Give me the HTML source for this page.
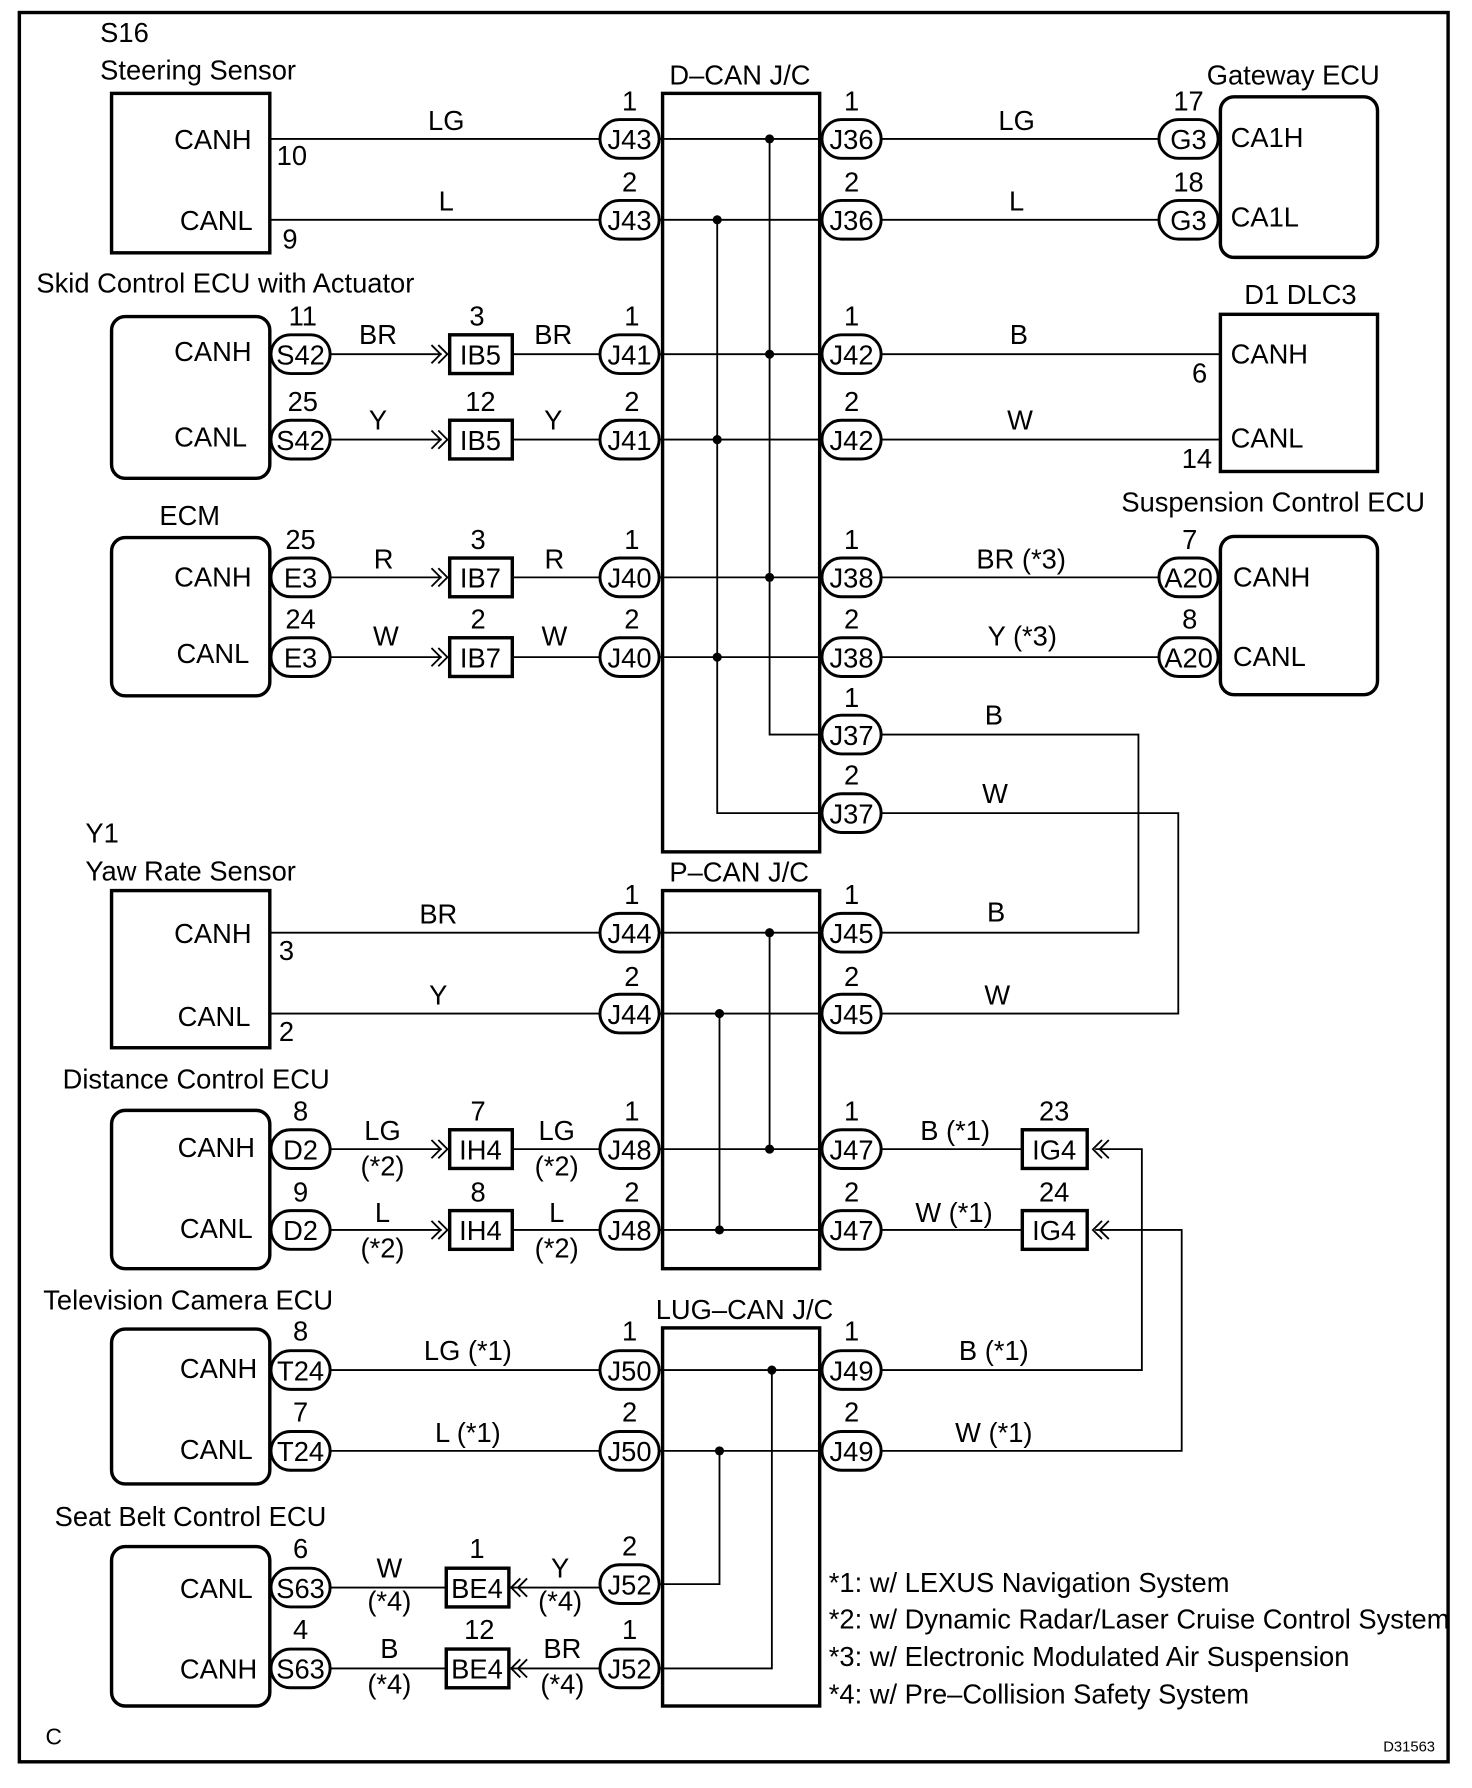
<!DOCTYPE html>
<html><head><meta charset="utf-8"><style>
html,body{margin:0;padding:0;background:#fff}
svg{display:block}
text{font-family:"Liberation Sans",Arial,sans-serif;font-size:24px;fill:#000}
.o{fill:#fff;stroke:#000;stroke-width:2.6}
.b{fill:#fff;stroke:#000;stroke-width:3}
.j{fill:none;stroke:#000;stroke-width:3}
.w{stroke:#000;stroke-width:1.6;fill:none}
.c{stroke:#000;stroke-width:1.6;fill:none}
</style></head><body>
<svg width="1472" height="1788" viewBox="0 0 1293 1570" preserveAspectRatio="none" xmlns="http://www.w3.org/2000/svg">
<rect x="17" y="11" width="1255" height="1536" fill="none" stroke="#000" stroke-width="3"/>

<!-- wires -->
<g class="w">
<path d="M237 122H527M579 122H722M774 122H1018"/>
<path d="M237 193H527M579 193H722M774 193H1018"/>
<path d="M290 311H388M450 311H527M579 311H722M774 311H1072"/>
<path d="M290 386H388M450 386H527M579 386H722M774 386H1072"/>
<path d="M290 507H388M450 507H527M579 507H722M774 507H1018"/>
<path d="M290 577H388M450 577H527M579 577H722M774 577H1018"/>
<path d="M676 122V645H722M630 193V714H722"/>
<path d="M774 645H1000V819H774M774 714H1035V890H774"/>
<path d="M237 819H527M579 819H722"/>
<path d="M237 890H527M579 890H722"/>
<path d="M290 1009H388M450 1009H527M579 1009H722M774 1009H898"/>
<path d="M290 1080H388M450 1080H527M579 1080H722M774 1080H898"/>
<path d="M676 819V1009M632 890V1080"/>
<path d="M962 1009H1003V1203H774M962 1080H1038V1274H774"/>
<path d="M290 1203H527M579 1203H722"/>
<path d="M290 1274H527M579 1274H722"/>
<path d="M678 1203V1465H579M632 1274V1391H579"/>
<path d="M290 1394H392M447 1394H527M290 1465H392M447 1465H527"/>
</g>
<g fill="#000">
<circle cx="676" cy="122" r="4"/><circle cx="630" cy="193" r="4"/>
<circle cx="676" cy="311" r="4"/><circle cx="630" cy="386" r="4"/>
<circle cx="676" cy="507" r="4"/><circle cx="630" cy="577" r="4"/>
<circle cx="676" cy="819" r="4"/><circle cx="632" cy="890" r="4"/>
<circle cx="676" cy="1009" r="4"/><circle cx="632" cy="1080" r="4"/>
<circle cx="678" cy="1203" r="4"/><circle cx="632" cy="1274" r="4"/>
</g>
<!-- chevrons -->
<g class="c">
<path d="M379 303L387 311L379 319M385 303L393 311L385 319"/>
<path d="M379 378L387 386L379 394M385 378L393 386L385 394"/>
<path d="M379 499L387 507L379 515M385 499L393 507L385 515"/>
<path d="M379 569L387 577L379 585M385 569L393 577L385 585"/>
<path d="M379 1001L387 1009L379 1017M385 1001L393 1009L385 1017"/>
<path d="M379 1072L387 1080L379 1088M385 1072L393 1080L385 1088"/>
<path d="M968 1001L960 1009L968 1017M974 1001L966 1009L974 1017"/>
<path d="M968 1072L960 1080L968 1088M974 1072L966 1080L974 1088"/>
<path d="M457 1386L449 1394L457 1402M463 1386L455 1394L463 1402"/>
<path d="M457 1457L449 1465L457 1473M463 1457L455 1465L463 1473"/>
</g>

<!-- component boxes -->
<rect class="b" x="98" y="82" width="139" height="140"/>
<rect class="b" x="98" y="278" width="139" height="142" rx="12"/>
<rect class="b" x="98" y="472" width="139" height="139" rx="12"/>
<rect class="b" x="98" y="782" width="139" height="138"/>
<rect class="b" x="98" y="975" width="139" height="139" rx="12"/>
<rect class="b" x="98" y="1167" width="139" height="136" rx="12"/>
<rect class="b" x="98" y="1358" width="139" height="140" rx="12"/>
<rect class="b" x="1072" y="85" width="138" height="141" rx="12"/>
<rect class="b" x="1072" y="276" width="138" height="138"/>
<rect class="b" x="1072" y="471" width="138" height="139" rx="12"/>
<rect class="j" x="582" y="82" width="138" height="666"/>
<rect class="j" x="582" y="782" width="138" height="332"/>
<rect class="j" x="582" y="1166" width="138" height="332"/>

<!-- square connectors -->
<rect class="b" x="395" y="294" width="55" height="34"/>
<rect class="b" x="395" y="369" width="55" height="34"/>
<rect class="b" x="395" y="490" width="55" height="34"/>
<rect class="b" x="395" y="560" width="55" height="34"/>
<rect class="b" x="395" y="992" width="55" height="34"/>
<rect class="b" x="395" y="1063" width="55" height="34"/>
<rect class="b" x="898" y="992" width="57" height="34"/>
<rect class="b" x="898" y="1063" width="57" height="34"/>
<rect class="b" x="392" y="1377" width="55" height="34"/>
<rect class="b" x="392" y="1448" width="55" height="34"/>

<!-- ovals -->
<g>
<rect class="o" x="527" y="105" width="52" height="34" rx="17"/><rect class="o" x="527" y="176" width="52" height="34" rx="17"/>
<rect class="o" x="722" y="105" width="52" height="34" rx="17"/><rect class="o" x="722" y="176" width="52" height="34" rx="17"/>
<rect class="o" x="1018" y="105" width="52" height="34" rx="17"/><rect class="o" x="1018" y="176" width="52" height="34" rx="17"/>
<rect class="o" x="238" y="294" width="52" height="34" rx="17"/><rect class="o" x="238" y="369" width="52" height="34" rx="17"/>
<rect class="o" x="527" y="294" width="52" height="34" rx="17"/><rect class="o" x="527" y="369" width="52" height="34" rx="17"/>
<rect class="o" x="722" y="294" width="52" height="34" rx="17"/><rect class="o" x="722" y="369" width="52" height="34" rx="17"/>
<rect class="o" x="238" y="490" width="52" height="34" rx="17"/><rect class="o" x="238" y="560" width="52" height="34" rx="17"/>
<rect class="o" x="527" y="490" width="52" height="34" rx="17"/><rect class="o" x="527" y="560" width="52" height="34" rx="17"/>
<rect class="o" x="722" y="490" width="52" height="34" rx="17"/><rect class="o" x="722" y="560" width="52" height="34" rx="17"/>
<rect class="o" x="1018" y="490" width="52" height="34" rx="17"/><rect class="o" x="1018" y="560" width="52" height="34" rx="17"/>
<rect class="o" x="722" y="628" width="52" height="34" rx="17"/><rect class="o" x="722" y="697" width="52" height="34" rx="17"/>
<rect class="o" x="527" y="802" width="52" height="34" rx="17"/><rect class="o" x="527" y="873" width="52" height="34" rx="17"/>
<rect class="o" x="722" y="802" width="52" height="34" rx="17"/><rect class="o" x="722" y="873" width="52" height="34" rx="17"/>
<rect class="o" x="238" y="992" width="52" height="34" rx="17"/><rect class="o" x="238" y="1063" width="52" height="34" rx="17"/>
<rect class="o" x="527" y="992" width="52" height="34" rx="17"/><rect class="o" x="527" y="1063" width="52" height="34" rx="17"/>
<rect class="o" x="722" y="992" width="52" height="34" rx="17"/><rect class="o" x="722" y="1063" width="52" height="34" rx="17"/>
<rect class="o" x="238" y="1186" width="52" height="34" rx="17"/><rect class="o" x="238" y="1257" width="52" height="34" rx="17"/>
<rect class="o" x="527" y="1186" width="52" height="34" rx="17"/><rect class="o" x="527" y="1257" width="52" height="34" rx="17"/>
<rect class="o" x="722" y="1186" width="52" height="34" rx="17"/><rect class="o" x="722" y="1257" width="52" height="34" rx="17"/>
<rect class="o" x="527" y="1374" width="52" height="34" rx="17"/><rect class="o" x="527" y="1448" width="52" height="34" rx="17"/>
<rect class="o" x="238" y="1377" width="52" height="34" rx="17"/><rect class="o" x="238" y="1448" width="52" height="34" rx="17"/>
</g>

<!-- connector labels (centered) -->
<g text-anchor="middle">
<text x="553" y="131">J43</text><text x="553" y="202">J43</text>
<text x="748" y="131">J36</text><text x="748" y="202">J36</text>
<text x="1044" y="131">G3</text><text x="1044" y="202">G3</text>
<text x="264" y="320">S42</text><text x="264" y="395">S42</text>
<text x="422" y="320">IB5</text><text x="422" y="395">IB5</text>
<text x="553" y="320">J41</text><text x="553" y="395">J41</text>
<text x="748" y="320">J42</text><text x="748" y="395">J42</text>
<text x="264" y="516">E3</text><text x="264" y="586">E3</text>
<text x="422" y="516">IB7</text><text x="422" y="586">IB7</text>
<text x="553" y="516">J40</text><text x="553" y="586">J40</text>
<text x="748" y="516">J38</text><text x="748" y="586">J38</text>
<text x="1044" y="516">A20</text><text x="1044" y="586">A20</text>
<text x="748" y="654">J37</text><text x="748" y="723">J37</text>
<text x="553" y="828">J44</text><text x="553" y="899">J44</text>
<text x="748" y="828">J45</text><text x="748" y="899">J45</text>
<text x="264" y="1018">D2</text><text x="264" y="1089">D2</text>
<text x="422" y="1018">IH4</text><text x="422" y="1089">IH4</text>
<text x="553" y="1018">J48</text><text x="553" y="1089">J48</text>
<text x="748" y="1018">J47</text><text x="748" y="1089">J47</text>
<text x="926" y="1018">IG4</text><text x="926" y="1089">IG4</text>
<text x="264" y="1212">T24</text><text x="264" y="1283">T24</text>
<text x="553" y="1212">J50</text><text x="553" y="1283">J50</text>
<text x="748" y="1212">J49</text><text x="748" y="1283">J49</text>
<text x="264" y="1403">S63</text><text x="264" y="1474">S63</text>
<text x="419" y="1403">BE4</text><text x="419" y="1474">BE4</text>
<text x="553" y="1400">J52</text><text x="553" y="1474">J52</text>

<!-- pin numbers -->
<text x="553" y="97">1</text><text x="553" y="168">2</text>
<text x="748" y="97">1</text><text x="748" y="168">2</text>
<text x="1044" y="97">17</text><text x="1044" y="168">18</text>
<text x="266" y="286">11</text><text x="266" y="361">25</text>
<text x="419" y="286">3</text><text x="422" y="361">12</text>
<text x="555" y="286">1</text><text x="555" y="361">2</text>
<text x="748" y="286">1</text><text x="748" y="361">2</text>
<text x="264" y="482">25</text><text x="264" y="552">24</text>
<text x="420" y="482">3</text><text x="420" y="552">2</text>
<text x="555" y="482">1</text><text x="555" y="552">2</text>
<text x="748" y="482">1</text><text x="748" y="552">2</text>
<text x="1045" y="482">7</text><text x="1045" y="552">8</text>
<text x="748" y="621">1</text><text x="748" y="689">2</text>
<text x="555" y="794">1</text><text x="555" y="866">2</text>
<text x="748" y="794">1</text><text x="748" y="866">2</text>
<text x="264" y="984">8</text><text x="264" y="1055">9</text>
<text x="420" y="984">7</text><text x="420" y="1055">8</text>
<text x="555" y="984">1</text><text x="555" y="1055">2</text>
<text x="748" y="984">1</text><text x="748" y="1055">2</text>
<text x="926" y="984">23</text><text x="926" y="1055">24</text>
<text x="264" y="1177">8</text><text x="264" y="1248">7</text>
<text x="553" y="1177">1</text><text x="553" y="1248">2</text>
<text x="748" y="1177">1</text><text x="748" y="1248">2</text>
<text x="264" y="1368">6</text><text x="264" y="1439">4</text>
<text x="419" y="1368">1</text><text x="421" y="1439">12</text>
<text x="553" y="1366">2</text><text x="553" y="1439">1</text>

<!-- wire colors -->
<text x="392" y="114">LG</text><text x="392" y="185">L</text>
<text x="893" y="114">LG</text><text x="893" y="185">L</text>
<text x="332" y="302">BR</text><text x="486" y="302">BR</text><text x="895" y="302">B</text>
<text x="332" y="377">Y</text><text x="486" y="377">Y</text><text x="896" y="377">W</text>
<text x="337" y="499">R</text><text x="487" y="499">R</text><text x="897" y="499">BR (*3)</text>
<text x="339" y="567">W</text><text x="487" y="567">W</text><text x="898" y="567">Y (*3)</text>
<text x="873" y="636">B</text><text x="874" y="705">W</text>
<text x="385" y="811">BR</text><text x="385" y="882">Y</text>
<text x="875" y="809">B</text><text x="876" y="882">W</text>
<text x="336" y="1001">LG</text><text x="336" y="1032">(*2)</text>
<text x="489" y="1001">LG</text><text x="489" y="1032">(*2)</text>
<text x="336" y="1073">L</text><text x="336" y="1104">(*2)</text>
<text x="489" y="1073">L</text><text x="489" y="1104">(*2)</text>
<text x="839" y="1001">B (*1)</text><text x="838" y="1073">W (*1)</text>
<text x="411" y="1194">LG (*1)</text><text x="411" y="1266">L (*1)</text>
<text x="873" y="1194">B (*1)</text><text x="873" y="1266">W (*1)</text>
<text x="342" y="1385">W</text><text x="342" y="1414">(*4)</text>
<text x="342" y="1456">B</text><text x="342" y="1487">(*4)</text>
<text x="492" y="1385">Y</text><text x="492" y="1414">(*4)</text>
<text x="494" y="1456">BR</text><text x="494" y="1487">(*4)</text>
</g>

<!-- component inner labels -->
<text x="153" y="131">CANH</text><text x="158" y="202">CANL</text>
<text x="243" y="145">10</text><text x="248" y="218">9</text>
<text x="153" y="317">CANH</text><text x="153" y="392">CANL</text>
<text x="153" y="515">CANH</text><text x="155" y="582">CANL</text>
<text x="153" y="828">CANH</text><text x="156" y="901">CANL</text>
<text x="245" y="843">3</text><text x="245" y="914">2</text>
<text x="156" y="1016">CANH</text><text x="158" y="1087">CANL</text>
<text x="158" y="1210">CANH</text><text x="158" y="1281">CANL</text>
<text x="158" y="1403">CANL</text><text x="158" y="1474">CANH</text>
<text x="1081" y="129">CA1H</text><text x="1081" y="199">CA1L</text>
<text x="1081" y="319">CANH</text><text x="1081" y="393">CANL</text>
<text x="1047" y="336">6</text><text x="1038" y="411">14</text>
<text x="1083" y="515">CANH</text><text x="1083" y="585">CANL</text>

<!-- titles -->
<text x="88" y="37">S16</text>
<text x="88" y="70">Steering Sensor</text>
<text x="588" y="74">D–CAN J/C</text>
<text x="1060" y="74">Gateway ECU</text>
<text x="32" y="257">Skid Control ECU with Actuator</text>
<text x="1093" y="267">D1 DLC3</text>
<text x="140" y="461">ECM</text>
<text x="985" y="449">Suspension Control ECU</text>
<text x="75" y="740">Y1</text>
<text x="75" y="773">Yaw Rate Sensor</text>
<text x="588" y="774">P–CAN J/C</text>
<text x="55" y="956">Distance Control ECU</text>
<text x="38" y="1150">Television Camera ECU</text>
<text x="576" y="1158">LUG–CAN J/C</text>
<text x="48" y="1340">Seat Belt Control ECU</text>
<text x="728" y="1398">*1: w/ LEXUS Navigation System</text>
<text x="728" y="1430">*2: w/ Dynamic Radar/Laser Cruise Control System</text>
<text x="728" y="1463">*3: w/ Electronic Modulated Air Suspension</text>
<text x="728" y="1496">*4: w/ Pre–Collision Safety System</text>
<text x="40" y="1532" style="font-size:20px">C</text>
<text x="1215" y="1538" style="font-size:13px">D31563</text>
</svg>
</body></html>
